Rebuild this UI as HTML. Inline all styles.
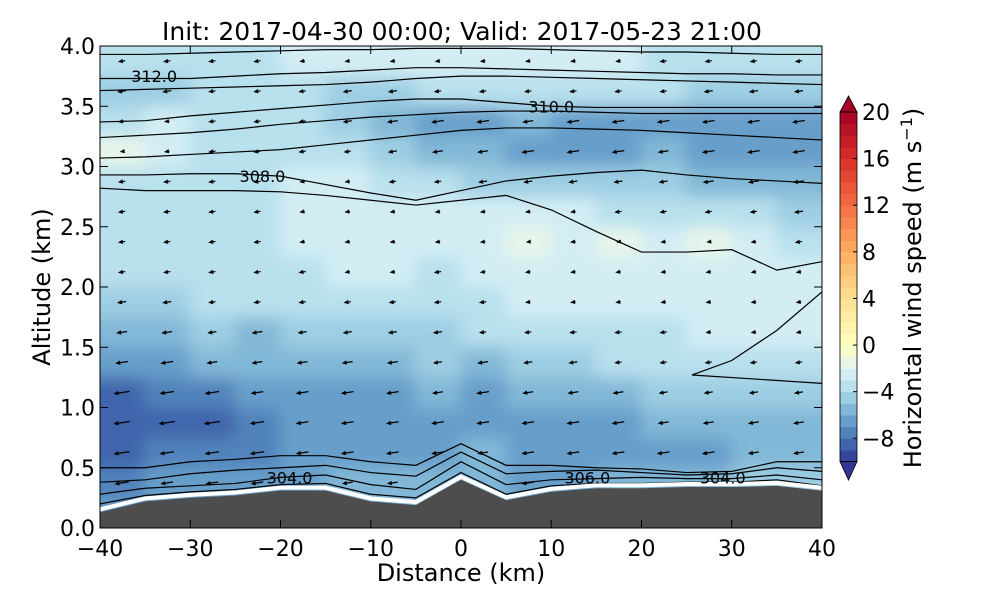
<!DOCTYPE html>
<html><head><meta charset="utf-8"><style>
body{margin:0;background:#fff;font-family:"Liberation Sans","DejaVu Sans",sans-serif;}
svg text{font-family:"DejaVu Sans","Liberation Sans",sans-serif;}
</style></head><body>
<svg id="chart" width="1000" height="600" xmlns="http://www.w3.org/2000/svg">
<defs>
<clipPath id="pc"><rect x="100" y="46" width="722" height="482"/></clipPath>
<filter id="bl" x="40" y="-20" width="850" height="620" filterUnits="userSpaceOnUse"><feGaussianBlur stdDeviation="8"/></filter>
</defs>
<g id="field" clip-path="url(#pc)"><g id="cells" filter="url(#bl)"></g></g>
<g id="contours" clip-path="url(#pc)"></g>
<g id="arrows" clip-path="url(#pc)"></g>
<g id="terrain" clip-path="url(#pc)"></g>
<g id="labels"></g>
<rect x="100" y="46" width="722" height="482" fill="none" stroke="#000" stroke-width="1"/>
<g id="axes"></g>
<text x="462" y="40" font-size="25" text-anchor="middle">Init: 2017-04-30 00:00; Valid: 2017-05-23 21:00</text>
<text x="461" y="581" font-size="24" text-anchor="middle">Distance (km)</text>
<text transform="translate(50,287) rotate(-90)" font-size="24" text-anchor="middle">Altitude (km)</text>
<g id="cbar"></g>
<text transform="translate(921,288) rotate(-90)" font-size="24" text-anchor="middle">Horizontal wind speed (m s<tspan dy="-9" font-size="16">−1</tspan><tspan dy="9">)</tspan></text>
</svg>
<script>
const xCenters=[-37.5,-32.5,-27.5,-22.5,-17.5,-12.5,-7.5,-2.5,2.5,7.5,12.5,17.5,22.5,27.5,32.5,37.5];
const zCenters=[0.125,0.375,0.625,0.875,1.125,1.375,1.625,1.875,2.125,2.375,2.625,2.875,3.125,3.375,3.625,3.875];
const speed=[
[-6,-6,-6,-6,-6,-5,-5,-5,-5,-5,-5,-5,-5,-5,-5,-5],
[-7,-6,-6,-6,-6,-5,-5,-5,-5,-6,-6,-5,-5,-5,-4,-4],
[-8,-7,-7,-7,-6,-6,-6,-6,-5,-6,-6,-6,-6,-6,-5,-5],
[-8,-8,-8,-7,-6,-6,-6,-6,-6,-6,-6,-6,-5,-5,-5,-5],
[-8,-7,-7,-6,-6,-6,-6,-5,-6,-5,-5,-5,-4,-4,-4,-4],
[-6,-6,-5,-5,-5,-5,-5,-4,-5,-4,-4,-3,-3,-3,-3,-3],
[-5,-5,-4,-5,-4,-4,-4,-4,-3,-3,-3,-3,-3,-2,-2,-2],
[-4,-4,-3,-3,-3,-3,-3,-3,-3,-2,-2,-2,-2,-2,-2,-2],
[-3,-3,-3,-3,-3,-2,-2,-3,-2,-2,-2,-2,-2,-2,-2,-2],
[-3,-3,-3,-3,-2,-2,-2,-2,-2,-1,-2,-1,-2,-1,-2,-3],
[-3,-3,-3,-3,-2,-2,-2,-2,-2,-2,-2,-3,-3,-3,-3,-4],
[-3,-3,-3,-3,-2,-2,-3,-3,-4,-4,-4,-4,-4,-5,-5,-5],
[-1,-2,-3,-3,-3,-3,-4,-5,-5,-6,-6,-6,-5,-6,-6,-6],
[-3,-2,-3,-3,-3,-4,-5,-6,-6,-5,-6,-6,-6,-6,-6,-6],
[-4,-4,-3,-3,-3,-4,-4,-3,-3,-3,-3,-3,-3,-4,-4,-4],
[-3,-3,-3,-3,-2,-2,-2,-2,-2,-2,-2,-2,-3,-3,-3,-3]];
const lineX=[-40,-35,-30,-25,-20,-15,-10,-5,0,5,10,15,20,25,30,35,40];
const terrainZ=[0.13,0.22,0.25,0.27,0.31,0.31,0.22,0.19,0.4,0.23,0.3,0.33,0.33,0.34,0.34,0.35,0.31];
const thetaLines=[
[3.93,3.93,3.94,3.95,3.96,3.97,3.97,3.98,3.98,3.98,3.97,3.96,3.95,3.95,3.94,3.93,3.93],
[3.73,3.73,3.73,3.75,3.77,3.78,3.8,3.82,3.82,3.81,3.8,3.79,3.78,3.77,3.77,3.76,3.76],
[3.63,3.64,3.65,3.66,3.67,3.68,3.7,3.73,3.75,3.75,3.74,3.73,3.72,3.71,3.7,3.69,3.68],
[3.37,3.38,3.42,3.45,3.48,3.51,3.54,3.56,3.56,3.53,3.5,3.49,3.49,3.49,3.49,3.49,3.49],
[3.24,3.26,3.28,3.31,3.35,3.38,3.41,3.43,3.45,3.46,3.46,3.45,3.44,3.44,3.44,3.44,3.44],
[3.07,3.08,3.1,3.12,3.14,3.18,3.22,3.26,3.3,3.32,3.32,3.31,3.3,3.28,3.26,3.24,3.22],
[2.93,2.93,2.94,2.94,2.92,2.85,2.78,2.72,2.8,2.88,2.92,2.95,2.97,2.93,2.9,2.88,2.86],
[2.82,2.8,2.8,2.8,2.79,2.76,2.72,2.68,2.72,2.76,2.64,2.46,2.29,2.29,2.31,2.14,2.21],
[0.2,0.27,0.3,0.32,0.36,0.37,0.28,0.25,0.46,0.28,0.35,0.37,0.37,0.38,0.38,0.4,0.35],
[0.28,0.33,0.35,0.37,0.42,0.44,0.36,0.32,0.55,0.36,0.4,0.41,0.42,0.41,0.41,0.44,0.4],
[0.38,0.4,0.45,0.48,0.5,0.52,0.46,0.43,0.63,0.45,0.47,0.48,0.46,0.44,0.45,0.5,0.47],
[0.5,0.5,0.55,0.57,0.6,0.6,0.55,0.52,0.7,0.52,0.52,0.5,0.49,0.46,0.47,0.55,0.55]];
const loopX=[40,25.6,30,35,40];
const loopZ=[1.2,1.27,1.39,1.64,1.96];
const labelText=["312.0","310.0","308.0","304.0","306.0","304.0"];
const labelX=[-34,10,-22,-19,14,29];
const labelZ=[3.75,3.5,2.92,0.42,0.42,0.42];
const xTicks=[-40,-30,-20,-10,0,10,20,30,40];
const yTicks=[0,0.5,1,1.5,2,2.5,3,3.5,4];
const cbTicks=[-8,-4,0,4,8,12,16,20];

const NS="http://www.w3.org/2000/svg";
const X=v=>100+(v+40)*722/80, Y=v=>528-v*120.5;
const CBT=112,CBB=461.6,cbY=v=>CBB-(v+10)*(CBB-CBT)/30;
const anchors=["#313695","#4575b4","#74add1","#abd9e9","#e0f3f8","#ffffbf","#fee090","#fdae61","#f46d43","#d73027","#a50026"];
function hex(h){return [1,3,5].map(i=>parseInt(h.substr(i,2),16));}
function cmap(t){t=Math.max(0,Math.min(1,t));const p=t*10,i=Math.min(9,Math.floor(p)),f=p-i;const a=hex(anchors[i]),b=hex(anchors[i+1]);return "rgb("+a.map((c,k)=>Math.round(c+(b[k]-c)*f)).join(",")+")";}
function norm(v){return v<0?0.5*(v+10)/10:0.5+0.5*v/20;}
function colorFor(v){const lo=Math.floor(v);const mid=lo+0.5;return cmap(norm(mid));}
function mk(tag,attrs,parent){const e=document.createElementNS(NS,tag);for(const k in attrs)e.setAttribute(k,attrs[k]);parent.appendChild(e);return e;}

const cells=document.getElementById('cells');
const nR=zCenters.length,nC=xCenters.length;
zCenters.forEach((z,r)=>xCenters.forEach((x,c)=>{
 const v=speed[r][c]-0.5;
 let x0=X(x-2.5)-0.5,x1=X(x+2.5)+0.5,y0=Y(z+0.125)-0.5,y1=Y(z-0.125)+0.5;
 if(c===0)x0-=40; if(c===nC-1)x1+=40; if(r===0)y1+=40; if(r===nR-1)y0-=40;
 const e=mk('rect',{x:x0,y:y0,width:x1-x0,height:y1-y0,fill:colorFor(v)},cells);
 
 
}));

const cg=document.getElementById('contours');
thetaLines.forEach(line=>{
 const e=mk('polyline',{points:line.map((z,i)=>X(lineX[i])+","+Y(z)).join(" "),fill:"none",stroke:"#000","stroke-width":1.2},cg);
 
 
});
const lp=mk('polyline',{points:loopZ.map((z,i)=>X(loopX[i])+","+Y(z)).join(" "),fill:"none",stroke:"#000","stroke-width":1.2},cg);



function terrAt(x){const i=Math.min(15,Math.max(0,Math.floor((x+40)/5)));const f=(x-lineX[i])/5;return terrainZ[i]+(terrainZ[i+1]-terrainZ[i])*f;}
const ag=document.getElementById('arrows');
zCenters.forEach((z,r)=>xCenters.forEach((x,c)=>{
 if(z<terrAt(x)+0.08)return;
 const v=speed[r][c];const L=Math.abs(v)*1.8;
 const cx=X(x),cy=Y(z);
 const dir=v<0?-1:1;
 const dx=dir*L*Math.cos(0.15),dy=L*Math.sin(0.15);
 const x1=cx-dx/2,y1=cy-dy/2,x2=cx+dx/2,y2=cy+dy/2;
 const a=mk('line',{x1:x1,y1:y1,x2:x2,y2:y2,stroke:"#000","stroke-width":1.2},ag);
 
 
 const ux=dx/(L||1),uy=dy/(L||1);
 const h=mk('polygon',{points:[x2+ux*2,y2+uy*2,x2-ux*3-uy*2.2,y2-uy*3+ux*2.2,x2-ux*3+uy*2.2,y2-uy*3-ux*2.2].join(","),fill:"#000"},ag);
 
 
}));

const tg=document.getElementById('terrain');
const wl=mk('polyline',{points:terrainZ.map((z,i)=>X(lineX[i])+","+(Y(z)-3)).join(" "),fill:"none",stroke:"#fff","stroke-width":4},tg);


const tp=mk('polygon',{points:terrainZ.map((z,i)=>X(lineX[i])+","+Y(z)).join(" ")+" 822,528 100,528",fill:"#4d4d4d"},tg);



const lg=document.getElementById('labels');
labelText.forEach((t,i)=>{
 const e=mk('text',{x:X(labelX[i]),y:Y(labelZ[i])+6,"font-size":16,"text-anchor":"middle"},lg);
 e.textContent=t;
 
 
});

const ax=document.getElementById('axes');
xTicks.forEach(t=>{
 mk('line',{x1:X(t),y1:528,x2:X(t),y2:520,stroke:"#000"},ax);
 mk('line',{x1:X(t),y1:46,x2:X(t),y2:54,stroke:"#000"},ax);
 const e=mk('text',{x:X(t),y:556,"font-size":22,"text-anchor":"middle"},ax);
 e.textContent=t<0?"−"+(-t):""+t;
 
 
});
yTicks.forEach(t=>{
 mk('line',{x1:100,y1:Y(t),x2:108,y2:Y(t),stroke:"#000"},ax);
 mk('line',{x1:822,y1:Y(t),x2:814,y2:Y(t),stroke:"#000"},ax);
 const e=mk('text',{x:95,y:Y(t)+8,"font-size":22,"text-anchor":"end"},ax);
 e.textContent=t.toFixed(1);
 
 
});

const cb=document.getElementById('cbar');
for(let v=-10;v<20;v++){
 const e=mk('rect',{x:840,y:cbY(v+1),width:17,height:cbY(v)-cbY(v+1)+0.5,fill:colorFor(v+0.5)},cb);
 
 
}
const up=mk('polygon',{points:"840,"+CBT+" 848.5,96 857,"+CBT,fill:"#a50026",stroke:"#000","stroke-width":0.8},cb);


const dn=mk('polygon',{points:"840,"+CBB+" 848.5,480 857,"+CBB,fill:"#313695",stroke:"#000","stroke-width":0.8},cb);


mk('rect',{x:840,y:CBT,width:17,height:CBB-CBT,fill:"none",stroke:"#000","stroke-width":0.8},cb);
cbTicks.forEach(t=>{
 mk('line',{x1:853,y1:cbY(t),x2:857,y2:cbY(t),stroke:"#000"},cb);
 const e=mk('text',{x:862,y:cbY(t)+8,"font-size":22},cb);
 e.textContent=t<0?"−"+(-t):""+t;
 
 
});
</script>
</body></html>
